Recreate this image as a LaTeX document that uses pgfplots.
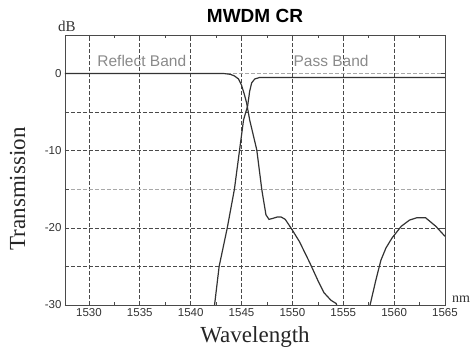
\documentclass[border=0pt]{standalone}
\usepackage{pgfplots}
\pgfplotsset{compat=1.18}
\usepackage{fontspec}
\setmainfont{Liberation Serif}
\newfontfamily\arial{Liberation Sans}
\definecolor{curve}{HTML}{333333}
\definecolor{gridd}{HTML}{4A4A4A}
\definecolor{gridl}{HTML}{A8A8A8}
\definecolor{bandtxt}{HTML}{8A8A8A}
\begin{document}
\begin{tikzpicture}
\path[use as bounding box] (-65pt,-51pt) rectangle (407pt,305pt);
\begin{axis}[
  name=ax,
  at={(0,0)}, anchor=south west,
  scale only axis, width=380pt, height=270pt,
  xmin=1527.65, xmax=1565, ymin=-30, ymax=5,
  xtick={1530,1535,...,1565},
  minor x tick num=1,
  ytick={-30,-25,-20,-10,-5},
  yticklabels={-30,,-20,-10,},
  extra y ticks={-15,0},
  extra y tick labels={,0},
  extra y tick style={grid style={gridl, line width=0.7pt, dash pattern=on 4pt off 2pt}},
  minor y tick num=1,
  grid=major,
  grid style={gridd, line width=0.6pt, dash pattern=on 4pt off 2pt},
  axis line style={gridd, line width=0.8pt},
  major tick style={gridd, line width=0.6pt},
  minor tick style={gridd, line width=0.5pt},
  major tick length=4pt, minor tick length=3pt,
  /pgf/number format/assume math mode=true,
  /pgf/number format/1000 sep={},
  tick label style={font=\arial\fontsize{11.5}{13}\selectfont, text=black!80},
  title={\arial\bfseries MWDM CR},
  title style={font=\fontsize{19}{22}\selectfont, at={(axis description cs:0.5,1)}, anchor=south, yshift=3pt},
  xlabel={Wavelength},
  ylabel={Transmission},
  label style={font=\fontsize{23}{26}\selectfont, text=black!85},
  xlabel style={at={(axis description cs:0.5,0)}, anchor=north, yshift=-18pt},
  ylabel style={at={(axis description cs:0,0.43)}, anchor=south, yshift=36pt},
]
\addplot[curve, line width=1.2pt] coordinates {
(1527.65,0) (1543.3,0) (1543.9,-0.1) (1544.3,-0.3) (1544.7,-0.7) (1545.0,-1.5) (1545.3,-2.8) (1545.5,-3.8)
(1545.8,-6) (1546.5,-9.9) (1547.0,-15.1) (1547.4,-18.3) (1547.7,-18.9) (1548.0,-18.8)
(1548.5,-18.6) (1548.9,-18.6) (1549.3,-18.9) (1550.0,-20.3) (1550.7,-21.8) (1551.7,-24.5)
(1552.5,-26.8) (1553.1,-28.4) (1553.8,-29.4) (1554.3,-29.8) (1554.6,-31) (1555.5,-36)
(1557.0,-36) (1557.6,-30.2) (1558.2,-26.8) (1558.7,-24.2) (1559.2,-22.6) (1559.8,-21.3)
(1560.7,-19.8) (1561.5,-19.0) (1562.2,-18.7) (1563.1,-18.7) (1564.1,-19.8) (1565,-21.1)
};
\addplot[curve, line width=1.2pt] coordinates {
(1542.2,-32) (1542.35,-30) (1542.8,-25) (1543.6,-20) (1544.3,-15) (1544.8,-10)
(1545.2,-6) (1545.6,-4.2) (1545.8,-2.3) (1546.0,-1.2) (1546.3,-0.7) (1546.8,-0.5) (1565,-0.5)
};
\node[font=\arial\fontsize{15.5}{17}\selectfont, text=bandtxt] at (axis cs:1535.2,1.6) {Reflect Band};
\node[font=\arial\fontsize{15.5}{17}\selectfont, text=bandtxt] at (axis cs:1553.8,1.6) {Pass Band};
\end{axis}
\node[font=\fontsize{15}{17}\selectfont, text=black!80, anchor=south, inner sep=0pt] at ([xshift=2pt,yshift=3pt]ax.north west) {dB};
\node[font=\fontsize{14}{16}\selectfont, text=black!80, anchor=south west, inner sep=0pt] at ([xshift=7pt,yshift=2pt]ax.south east) {nm};
\end{tikzpicture}
\end{document}
